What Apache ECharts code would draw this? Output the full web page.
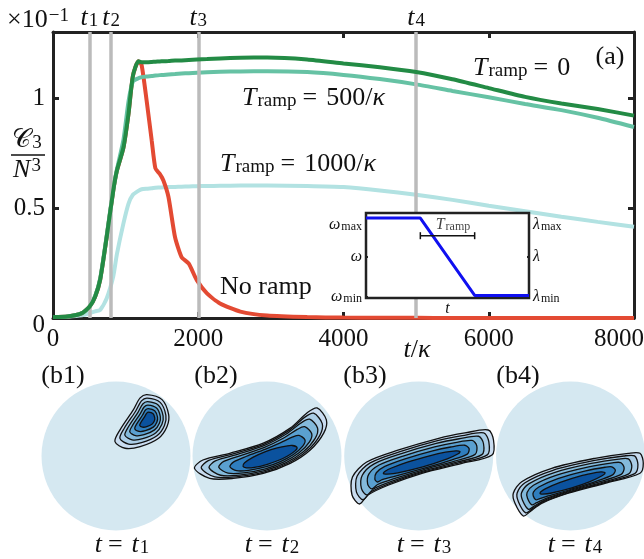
<!DOCTYPE html>
<html><head><meta charset="utf-8">
<script src="https://cdn.jsdelivr.net/npm/echarts@6/dist/echarts.min.js"></script>
<style>html,body{margin:0;padding:0;background:#fff}#c{width:644px;height:559px}</style>
</head><body><div id="c"></div>
<script>
const SERIF = "'Liberation Serif', 'Times New Roman', serif";

// ---------- main panel (a) data ----------
const tK = [0, 200, 400, 500, 580, 650, 740, 830, 880, 970, 1040, 1100, 1175, 1220, 1290, 1360, 1410, 1470, 1520, 1590, 1680, 1770, 1870, 1980, 2120, 2300, 2580, 2950, 3500, 4000, 4500, 5000, 5500, 6000, 6500, 7000, 7500, 8000];
const cRamp0 = [0.004, 0.007, 0.022, 0.05, 0.097, 0.175, 0.37, 0.58, 0.67, 0.775, 0.93, 1.10, 1.167, 1.163, 1.163, 1.164, 1.165, 1.166, 1.167, 1.168, 1.17, 1.171, 1.173, 1.175, 1.177, 1.18, 1.183, 1.184, 1.175, 1.157, 1.14, 1.118, 1.085, 1.045, 1.005, 0.975, 0.95, 0.92];
const cRamp500 = [0.004, 0.007, 0.022, 0.05, 0.1, 0.18, 0.375, 0.585, 0.675, 0.81, 0.985, 1.075, 1.09, 1.095, 1.098, 1.1, 1.102, 1.104, 1.105, 1.107, 1.109, 1.111, 1.113, 1.115, 1.117, 1.119, 1.121, 1.122, 1.118, 1.105, 1.086, 1.062, 1.032, 1.003, 0.973, 0.945, 0.91, 0.868];
const cRamp1000 = [0.004, 0.006, 0.012, 0.021, 0.03, 0.037, 0.09, 0.19, 0.29, 0.43, 0.52, 0.56, 0.578, 0.585, 0.588, 0.59, 0.592, 0.593, 0.594, 0.595, 0.596, 0.597, 0.598, 0.599, 0.6, 0.601, 0.602, 0.602, 0.6, 0.595, 0.58, 0.56, 0.537, 0.51, 0.485, 0.46, 0.437, 0.415];
const cNoRamp = [0.004, 0.007, 0.022, 0.05, 0.097, 0.175, 0.37, 0.58, 0.67, 0.775, 0.93, 1.10, 1.167, 1.15, 0.986, 0.805, 0.68, 0.655, 0.625, 0.55, 0.368, 0.277, 0.247, 0.172, 0.112, 0.066, 0.029, 0.011, 0.004, 0.002, 0.001, 0.001, 0, 0, 0, 0, 0, 0];
const markTimes = [500, 800, 2000, 5000];
const markNames = ['1', '2', '3', '4'];

// ---------- inset data ----------
const insetT = [0, 1, 2, 3];
const insetW = [0.94, 0.94, 0.03, 0.03];
const insetMarks = [1, 2];
const rampBar = [[1, 0.733], [2, 0.733]];
const rampLabelPos = [1.6, 0.86];
const insetLabelVals = [0.01, 0.48, 0.86];
const insetTickVals = [0.02, 0.49];

// ---------- panels (b1)-(b4): outer and innermost contours (unit-circle coords) ----------
const outerB1 = [[0.415,0.824],[0.618,0.757],[0.707,0.554],[0.685,0.396],[0.572,0.239],[0.324,0.126],[0.122,0.104],[-0.014,0.193],[0.054,0.351],[0.234,0.622],[0.324,0.78]];
const coreB1 = [[0.438,0.589],[0.495,0.570],[0.520,0.513],[0.514,0.469],[0.482,0.425],[0.413,0.393],[0.356,0.387],[0.318,0.412],[0.337,0.456],[0.387,0.532],[0.413,0.576]];
const outerB2 = [[0.672,0.645],[0.797,0.486],[0.761,0.307],[0.581,0.081],[0.311,-0.099],[-0.05,-0.234],[-0.455,-0.301],[-0.77,-0.301],[-0.973,-0.166],[-0.861,-0.054],[-0.5,0.036],[-0.05,0.172],[0.311,0.374],[0.536,0.577]];
const coreB2 = [[0.339,0.141],[0.402,0.118],[0.380,0.072],[0.271,-0.003],[0.131,-0.067],[0.005,-0.111],[-0.171,-0.153],[-0.276,-0.159],[-0.322,-0.138],[-0.300,-0.092],[-0.191,-0.018],[-0.020,0.059],[0.137,0.109],[0.276,0.137]];
const outerB3 = [[0.934,0.349],[1.004,0.215],[0.984,0.013],[0.581,-0.098],[0.044,-0.232],[-0.403,-0.389],[-0.681,-0.523],[-0.795,-0.644],[-0.895,-0.523],[-0.889,-0.282],[-0.698,-0.081],[-0.268,0.081],[0.268,0.238],[0.621,0.309]];
const coreB3 = [[0.500,0.069],[0.555,0.058],[0.530,0.030],[0.384,-0.038],[0.056,-0.145],[-0.279,-0.225],[-0.420,-0.243],[-0.465,-0.240],[-0.475,-0.232],[-0.450,-0.204],[-0.365,-0.161],[-0.151,-0.082],[0.158,0.006],[0.359,0.051]];
const outerB4 = [[0.933,0.036],[0.977,-0.098],[0.933,-0.232],[0.463,-0.366],[-0.03,-0.5],[-0.387,-0.635],[-0.544,-0.748],[-0.634,-0.805],[-0.745,-0.635],[-0.768,-0.5],[-0.655,-0.345],[-0.252,-0.165],[0.329,-0.031],[0.776,0.036]];
const coreB4 = [[0.414,-0.213],[0.463,-0.224],[0.429,-0.261],[0.261,-0.343],[0.007,-0.431],[-0.268,-0.500],[-0.376,-0.511],[-0.402,-0.507],[-0.409,-0.500],[-0.398,-0.481],[-0.340,-0.442],[-0.139,-0.355],[0.159,-0.261],[0.349,-0.220]];
const levelWeights = [[0, 0.2, 0.4, 0.6, 0.8, 1], [0, 0.14, 0.3, 0.5, 0.73, 1], [0, 0.14, 0.3, 0.5, 0.73, 1], [0, 0.14, 0.3, 0.5, 0.73, 1]];
const levelFills = ['#C9DCF0', '#ABCDE6', '#84BADB', '#5AA0D0', '#2F7EBE', '#0B529E'];
const panelNames = ['(b1)', '(b2)', '(b3)', '(b4)'];
const panelTimes = ['1', '2', '3', '4'];

// ---------- helpers ----------
function mkRich(fs, ss, pad) {
  const col = '#111';
  return {
    i: {fontFamily: SERIF, fontStyle: 'italic', fontSize: fs, lineHeight: fs, verticalAlign: 'middle', color: col},
    n: {fontFamily: SERIF, fontSize: fs, lineHeight: fs, verticalAlign: 'middle', color: col},
    eq: {fontFamily: SERIF, fontSize: fs, lineHeight: fs, verticalAlign: 'middle', color: col, padding: [0, Math.round(fs * 0.36), 0, Math.round(fs * 0.24)]},
    sub: {fontFamily: SERIF, fontSize: ss, lineHeight: ss, verticalAlign: 'bottom', color: col, padding: [pad, 0, 0, 1]},
    sup: {fontFamily: SERIF, fontSize: ss, lineHeight: ss, verticalAlign: 'top', color: col, padding: [0, 0, pad, 1]},
    c: {fontFamily: "'DejaVu Sans', 'DejaVu Serif', serif", fontSize: fs, lineHeight: fs, verticalAlign: 'middle', color: col}
  };
}
const RICH = mkRich(26, 19, 12);
const RICH_S = mkRich(16, 12, 7);
function gtext(x, y, text, align) {
  return {type: 'text', x: x, y: y, z: 100, silent: true,
    style: {text: text, rich: RICH, align: align, verticalAlign: 'middle', textAlign: align, textVerticalAlign: 'middle', fill: '#111', font: '26px ' + SERIF}};
}
const AX = '#222';

function mainLine(vals, color, z) {
  return {type: 'line', xAxisIndex: 0, yAxisIndex: 0, data: tK.map((t, i) => [t, vals[i]]),
    showSymbol: false, symbol: 'none', smooth: 0.2, clip: true,
    lineStyle: {color: color, width: 4}, itemStyle: {color: color}, z: z, silent: true};
}

const grids = [
  {left: 53, top: 32, right: 10, bottom: 241, containLabel: false, outerBoundsMode: 'none'},
  {left: 366, top: 213, width: 163, height: 85, containLabel: false, outerBoundsMode: 'none'}
];
const panelCx = [116, 267, 418.7, 570.5];
const panelR = 74.5;
panelCx.forEach(cx => grids.push({left: cx - panelR, top: 456 - panelR, width: 2 * panelR, height: 2 * panelR, containLabel: false, outerBoundsMode: 'none'}));

const xAxes = [
  {type: 'value', gridIndex: 0, position: 'bottom', min: 0, max: 8000, interval: 2000,
    axisLine: {onZero: false, lineStyle: {color: AX, width: 3}},
    axisTick: {inside: true, length: 6, lineStyle: {color: AX, width: 3}},
    axisLabel: {margin: 9, fontFamily: SERIF, fontSize: 25, color: '#111',
      formatter: v => v === 8000 ? '{m|8000}' : String(v),
      rich: {m: {fontFamily: SERIF, fontSize: 25, color: '#111', padding: [0, 30, 0, 0]}}},
    splitLine: {show: false}},
  {type: 'value', gridIndex: 0, position: 'top', min: 0, max: 8000, interval: 2000,
    axisLine: {onZero: false, lineStyle: {color: AX, width: 3}},
    axisTick: {inside: true, length: 6, lineStyle: {color: AX, width: 3}},
    axisLabel: {show: false}, splitLine: {show: false}},
  {type: 'value', gridIndex: 1, min: 0, max: 3, z: 8,
    axisLine: {show: false}, axisTick: {show: false}, axisLabel: {show: false}, splitLine: {show: false},
    name: '{i|t}', nameLocation: 'middle', nameGap: 3, nameTextStyle: {rich: RICH_S, fontFamily: SERIF, fontStyle: 'italic', fontSize: 16, color: '#111', verticalAlign: 'top'}}
];
const yAxes = [
  {type: 'value', gridIndex: 0, position: 'left', min: 0, max: 1.3, interval: 0.5,
    axisLine: {onZero: false, lineStyle: {color: AX, width: 3}},
    axisTick: {inside: true, length: 6, lineStyle: {color: AX, width: 3}},
    axisLabel: {margin: 8, fontFamily: SERIF, fontSize: 25, color: '#111', showMaxLabel: false,
      formatter: v => v === 0 ? '{z|0}' : String(v),
      rich: {z: {fontFamily: SERIF, fontSize: 25, color: '#111', padding: [14, 0, 0, 0]}}},
    splitLine: {show: false}},
  {type: 'value', gridIndex: 0, position: 'right', min: 0, max: 1.3, interval: 0.5,
    axisLine: {onZero: false, lineStyle: {color: AX, width: 3}},
    axisTick: {inside: true, length: 6, lineStyle: {color: AX, width: 3}},
    axisLabel: {show: false}, splitLine: {show: false}},
  {type: 'value', gridIndex: 1, position: 'left', min: 0, max: 1, z: 8,
    axisLine: {show: false},
    axisTick: {show: true, inside: true, length: 2, customValues: insetTickVals, lineStyle: {color: AX, width: 2}},
    axisLabel: {margin: 4, customValues: insetLabelVals, rich: RICH_S,
      formatter: v => v > 0.8 ? '{i|ω}{sub|max}' : (v > 0.3 ? '{i|ω}' : '{i|ω}{sub|min}')},
    splitLine: {show: false}},
  {type: 'value', gridIndex: 1, position: 'right', min: 0, max: 1, z: 8,
    axisLine: {show: false},
    axisTick: {show: true, inside: true, length: 2, customValues: [insetTickVals[1]], lineStyle: {color: AX, width: 2}},
    axisLabel: {margin: 4, customValues: insetLabelVals, rich: RICH_S,
      formatter: v => v > 0.8 ? '{i|λ}{sub|max}' : (v > 0.3 ? '{i|λ}' : '{i|λ}{sub|min}')},
    splitLine: {show: false}}
];
for (let k = 0; k < 4; k++) {
  xAxes.push({type: 'value', gridIndex: 2 + k, min: -1, max: 1, show: false});
  yAxes.push({type: 'value', gridIndex: 2 + k, min: -1, max: 1, show: false});
}

const series = [
  {type: 'line', xAxisIndex: 0, yAxisIndex: 0, data: [], z: 1, silent: true,
    markLine: {symbol: 'none', silent: true, animation: false,
      lineStyle: {color: '#BBBBBB', width: 3.5, type: 'solid'},
      label: {show: true, position: 'end', distance: 1, rich: RICH},
      data: markTimes.map((t, k) => ({xAxis: t, label: {formatter: '{i|t}{sub|' + markNames[k] + '}'}}))}},
  mainLine(cRamp1000, '#B2E2E2', 2),
  mainLine(cNoRamp, '#E34A33', 3),
  mainLine(cRamp500, '#66C2A4', 4),
  mainLine(cRamp0, '#238B45', 5),
  // inset
  {type: 'custom', xAxisIndex: 2, yAxisIndex: 2, z: 5, silent: true, clip: false, data: [[0, 1]],
    renderItem: (params, api) => {
      const p = api.coord([api.value(0), api.value(1)]);
      const s = api.size([3, 1]);
      return {type: 'rect', shape: {x: p[0], y: p[1], width: s[0], height: s[1]},
        style: {fill: '#fff', stroke: AX, lineWidth: 2.5}};
    }},
  {type: 'line', xAxisIndex: 2, yAxisIndex: 2, data: [], z: 6, silent: true,
    markLine: {symbol: 'none', silent: true, label: {show: false},
      lineStyle: {color: '#AAAAAA', width: 2, type: 'solid'},
      data: insetMarks.map(x => ({xAxis: x}))}},
  {type: 'line', xAxisIndex: 2, yAxisIndex: 2, z: 7, silent: true, showSymbol: false, symbol: 'none',
    data: insetT.map((t, i) => [t, insetW[i]]), lineStyle: {color: '#1010F0', width: 3}},
  {type: 'line', xAxisIndex: 2, yAxisIndex: 2, z: 7, silent: true, data: rampBar,
    symbol: 'rect', symbolSize: [1.5, 7], showSymbol: true,
    lineStyle: {color: '#111', width: 1.5}, itemStyle: {color: '#111'}},
  {type: 'scatter', xAxisIndex: 2, yAxisIndex: 2, z: 7, silent: true, data: [rampLabelPos], symbolSize: 0,
    label: {show: true, position: 'inside', rich: RICH_S, formatter: '{i|T}{sub|ramp}'}}
];

const outers = [outerB1, outerB2, outerB3, outerB4];
const cores = [coreB1, coreB2, coreB3, coreB4];
for (let k = 0; k < 4; k++) {
  series.push({type: 'custom', xAxisIndex: 3 + k, yAxisIndex: 4 + k, z: 2, silent: true, clip: false,
    data: [[0, 0]],
    renderItem: (params, api) => {
      const c = api.coord([api.value(0), api.value(1)]);
      const r = api.size([1, 1])[0];
      return {type: 'circle', shape: {cx: c[0], cy: c[1], r: r}, style: {fill: '#D5E8F1'}};
    }});
  const outer = outers[k], core = cores[k];
  series.push({type: 'custom', xAxisIndex: 3 + k, yAxisIndex: 4 + k, z: 3, silent: true, clip: false,
    data: levelFills.map((f, i) => [i]),
    renderItem: (params, api) => {
      const lv = api.value(0);
      const w = levelWeights[k][lv];
      const pts = outer.map((q, j) => api.coord([q[0] + (core[j][0] - q[0]) * w, q[1] + (core[j][1] - q[1]) * w]));
      return {type: 'polygon', shape: {points: pts, smooth: 0.3},
        style: {fill: levelFills[lv], stroke: '#111', lineWidth: 1.3}};
    }});
}

const graphic = [
  gtext(7, 20, '{n|×10}{sup|−1}', 'left'),
  gtext(610, 57, '{n|(a)}', 'center'),
  gtext(473, 68, '{i|T}{sub|ramp}{eq|=}{n|0}', 'left'),
  gtext(242, 98, '{i|T}{sub|ramp}{eq|=}{n|500/}{i|κ}', 'left'),
  gtext(220, 164, '{i|T}{sub|ramp}{eq|=}{n|1000/}{i|κ}', 'left'),
  gtext(220, 287, '{n|No ramp}', 'left'),
  gtext(417, 350, '{i|t}{n|/}{i|κ}', 'center'),
  gtext(27, 140, '{c|𝒞}{sub|3}', 'center'),
  {type: 'line', z: 100, silent: true, shape: {x1: 11, y1: 155, x2: 45, y2: 155}, style: {stroke: '#111', lineWidth: 1.3}},
  gtext(27, 170, '{i|N}{sup|3}', 'center')
];
const labelX = [63, 216, 365, 518];
const tX = [122, 272, 424, 575];
for (let k = 0; k < 4; k++) {
  graphic.push(gtext(labelX[k], 376, '{n|' + panelNames[k] + '}', 'center'));
  graphic.push(gtext(tX[k], 545, '{i|t}{eq|=}{i|t}{sub|' + panelTimes[k] + '}', 'center'));
}

const chart = echarts.init(document.getElementById('c'), null, {renderer: 'canvas'});
chart.setOption({animation: false, backgroundColor: '#fff', grid: grids, xAxis: xAxes, yAxis: yAxes, series: series, graphic: graphic});
</script>
</body></html>
